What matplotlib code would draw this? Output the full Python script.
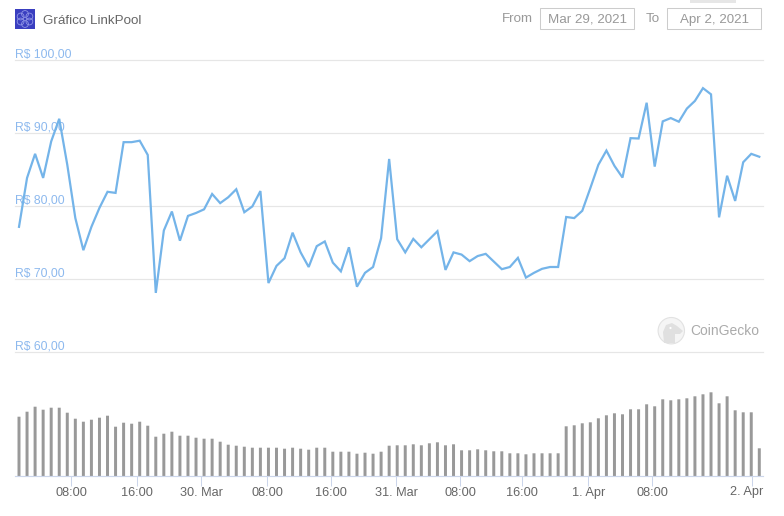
import numpy as np
import matplotlib
matplotlib.use("Agg")
import matplotlib.pyplot as plt
from matplotlib.patches import Rectangle, Circle, Ellipse, Polygon

plt.rcParams['font.family'] = ['Liberation Sans', 'DejaVu Sans']

price = [77.2, 83.9, 87.2, 83.9, 88.9, 92.0, 85.7, 78.4, 74.0, 77.2, 79.8, 82.0, 81.85, 88.8, 88.8, 89.0,
         87.05, 68.15, 76.7, 79.3, 75.3, 78.7, 79.1, 79.6, 81.7, 80.45, 81.25, 82.35, 79.2, 80.0, 82.1, 69.5,
         71.85, 72.9, 76.4, 73.7, 71.7, 74.55, 75.2, 72.3, 71.1, 74.4, 69.0, 70.9, 71.7, 75.65, 86.5, 75.5,
         73.7, 75.55, 74.4, 75.5, 76.6, 71.3, 73.7, 73.4, 72.5, 73.2, 73.5, 72.45, 71.4, 71.7, 72.95, 70.25,
         70.9, 71.45, 71.7, 71.7, 78.55, 78.4, 79.4, 82.5, 85.7, 87.65, 85.55, 83.95, 89.35, 89.3, 94.2, 85.45,
         91.65, 92.1, 91.6, 93.4, 94.45, 96.2, 95.35, 78.5, 84.2, 80.75, 86.05, 87.2, 86.8]

volume = [59.3, 64.3, 69.3, 66.3, 68.3, 68.3, 63.3, 57.3, 54.3, 56.3, 58.3, 60.3, 49.3, 53.3, 52.3, 54.3,
          50.3, 39.3, 42.3, 44.3, 40.3, 40.3, 38.3, 37.3, 37.3, 34.3, 31.3, 30.3, 29.3, 28.3, 28.3, 28.3,
          28.3, 27.3, 28.3, 27.3, 26.3, 28.3, 28.3, 24.3, 24.3, 24.3, 22.3, 23.3, 22.3, 24.3, 30.3,
          30.7, 30.7, 31.7, 30.7, 32.7, 33.7, 30.7, 31.7, 25.7, 25.7, 26.7, 25.7, 24.7, 24.7, 22.7, 22.7,
          21.7, 22.7, 22.7, 22.7, 22.7, 49.7, 50.7, 52.7, 53.7, 57.7, 60.7, 62.7, 61.7, 66.7, 66.7, 71.7,
          69.7, 76.7, 75.7, 76.7, 77.7, 79.7, 81.7, 83.7, 72.7, 79.7, 65.7, 63.7, 63.7, 27.7]

price_ticks = [60, 70, 80, 90, 100]
price_labels = ['R$ 60,00', 'R$ 70,00', 'R$ 80,00', 'R$ 90,00', 'R$ 100,00']
time_tick_pos = [6.5, 14.7, 22.65, 30.86, 38.8, 46.9, 54.84, 62.55, 70.75, 78.7, 91.1]
time_tick_labels = ['08:00', '16:00', '30. Mar', '08:00', '16:00', '31. Mar', '08:00', '16:00', '1. Apr', '08:00', '2. Apr']

W, H = 784, 516
X0, X1 = 15, 763
fig = plt.figure(figsize=(W / 100, H / 100), dpi=100, facecolor='white')

def axes_px(left, top, right, bottom, **kw):
    return fig.add_axes([left / W, 1 - bottom / H, (right - left) / W, (bottom - top) / H], **kw)

step = (759.3 - 19) / 92
xlim = ((X0 - 19) / step, (X1 - 19) / step)
idx = np.arange(len(price))

ax = axes_px(X0, 60.4, X1, 352.4)
ax.set_facecolor('none')
ax.set_xlim(xlim)
ax.set_ylim(60, 100)
ax.set_yticks(price_ticks)
ax.set_yticklabels([])
ax.tick_params(axis='both', length=0, labelbottom=False)
ax.set_xticks([])
ax.grid(axis='y', color='#e6e6e6', lw=0.85, clip_on=False)
for gl in ax.get_ygridlines():
    gl.set_clip_on(False)
ax.set_axisbelow(True)
for s in ax.spines.values():
    s.set_visible(False)
ax.plot(idx, price, color='#74b4e9', lw=1.6, solid_joinstyle='miter', zorder=4, clip_on=False)
for v, lab in zip(price_ticks, price_labels):
    ax.annotate(lab, xy=(0, v), xycoords=('axes fraction', 'data'), xytext=(0.3, 1.9),
                textcoords='offset points', ha='left', va='baseline', fontsize=8.7,
                color='#8db9ee', zorder=3)

vax = axes_px(X0, 352.4, X1, 476)
vax.set_facecolor('none')
vax.set_xlim(xlim)
vax.set_ylim(0, 476 - 352.4)
bars = vax.bar(idx, volume, width=0.37, color='#999999', lw=0)
for b in bars:
    b.set_snap(False)
for name, s in vax.spines.items():
    s.set_visible(name == 'bottom')
vax.spines['bottom'].set_color('#ccd6eb')
vax.spines['bottom'].set_linewidth(0.85)
vax.set_yticks([])
vax.set_xticks(time_tick_pos)
vax.set_xticklabels(time_tick_labels[:-1] + [''])
vax.tick_params(axis='x', length=7.2, width=0.75, color='#ccd6eb', labelcolor='#666666',
                labelsize=9.2, pad=0.6)
vax.annotate(time_tick_labels[-1], xy=(1, 0), xycoords='axes fraction', xytext=(0, -19.2),
             textcoords='offset pixels', ha='right', va='baseline', fontsize=9.2, color='#666666',
             annotation_clip=False)

# page furniture, in pixel coordinates
ov = fig.add_axes([0, 0, 1, 1], zorder=-1)
ov.set_xlim(0, W)
ov.set_ylim(H, 0)
ov.axis('off')

ov.add_patch(Rectangle((15, 9), 20, 20, fc='#3a3fc0', ec='none'))
for dx, dy in [(0, -5), (4.4, -2.5), (4.4, 2.5), (0, 5), (-4.4, 2.5), (-4.4, -2.5)]:
    ov.add_patch(Circle((25 + dx, 19 + dy), 3.4, fc='none', ec='#8f95e6', lw=0.6))
ov.text(43, 24, 'Gráfico LinkPool', fontsize=9.6, color='#666666', ha='left', va='baseline')

ov.add_patch(Rectangle((690, 0), 46, 2.6, fc='#e6e6e6', ec='none'))
ov.text(532.5, 22.5, 'From', fontsize=9.6, color='#999999', ha='right', va='baseline')
ov.text(660, 22.5, 'To', fontsize=9.6, color='#999999', ha='right', va='baseline')
for (a, b, lab) in [(540.5, 634.5, 'Mar 29, 2021'), (667.5, 761.5, 'Apr 2, 2021')]:
    ov.add_patch(Rectangle((a, 7.5), b - a, 21, fc='white', ec='#cccccc', lw=0.75))
    ov.text((a + b) / 2, 22.5, lab, fontsize=9.6, color='#999999', ha='center', va='baseline')

ov.add_patch(Circle((671.3, 330.7), 13.2, fc='#f5f5f5', ec='#e2e2e2', lw=0.8))
ov.add_patch(Polygon([(664, 343), (663, 332), (666, 325), (672, 323), (677, 326), (683, 331),
                      (680, 334), (675, 334), (675, 343)], closed=True, fc='#e0e0e0', ec='none'))
ov.add_patch(Ellipse((670.5, 328), 2.2, 2.2, fc='white', ec='none'))
ov.text(690, 334.7, 'CoinGecko', fontsize=10, color='#ababab', ha='left', va='baseline')

fig.savefig('out.png', dpi=100)
